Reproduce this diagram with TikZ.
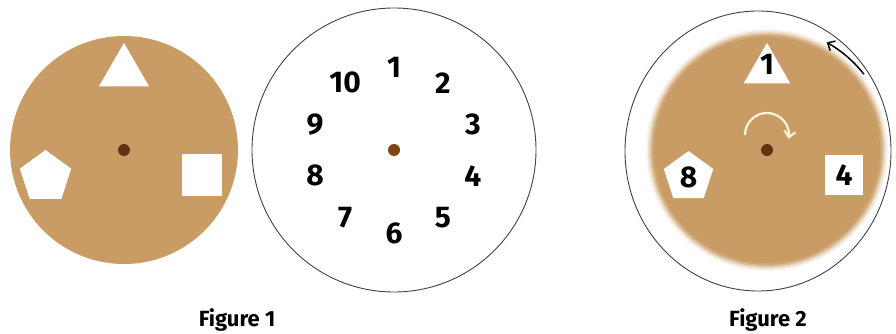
\documentclass[tikz,border=0pt]{standalone}
\usepackage{fontspec}
\setmainfont{Fira Sans}
\usetikzlibrary{shapes.geometric,calc,positioning,arrows.meta}
\definecolor{disc}{HTML}{C99C65}
\definecolor{pincol}{HTML}{5E3412}
\definecolor{cream}{HTML}{FFF4D6}

\begin{document}
\begin{tikzpicture}[x=1pt,y=1pt,
    hole/.style={fill=white,inner sep=0pt},
    num/.style={inner sep=0pt,font=\fontsize{30}{30}\selectfont\bfseries},
    caption/.style={font=\fontsize{22}{22}\selectfont\bfseries}]
    \useasboundingbox (0,0) rectangle (896,-334);
    % figure 1, the disc with the holes
    \coordinate (c1) at (124,-150);
    \fill[disc] (c1) circle (114);
    \node[hole,regular polygon,regular polygon sides=3,minimum size=58] (tri1) at ($(c1)+(90:78)$) {};
    \node[hole,regular polygon,regular polygon sides=5,minimum size=54] (pent1) at ($(c1)+(-161:83)$) {};
    \node[hole,rectangle,minimum width=40,minimum height=42] (sq1) at ($(c1)+(-18:82)$) {};
    \fill[pincol] (c1) circle (6);
    % figure 1, the numbered dial
    \coordinate (c2) at (394,-150);
    \draw[black!75,line width=0.9] (c2) circle (142);
    \foreach \i in {1,...,10}
        \node[num] (n\i) at ($(c2)+({90-36*(\i-1)}:83)$) {\i};
    \fill[pincol!80!orange] (c2) circle (6);
    % figure 2, disc laid on the dial
    \coordinate (c3) at (767,-150);
    \draw[black!75,line width=0.9] (758,-151) ellipse [x radius=133,y radius=140];
    \foreach \r/\o in {121/0.12,119/0.25,117/0.45,115/0.7}
        \fill[disc,opacity=\o] (c3) circle (\r);
    \fill[disc] (c3) circle (113);
    \node[hole,regular polygon,regular polygon sides=3,minimum size=54] (tri2) at ($(c3)+(90:80)$) {};
    \node[hole,regular polygon,regular polygon sides=5,minimum size=52] (pent2) at ($(c3)+(-161:83)$) {};
    \node[hole,rectangle,minimum width=38,minimum height=40] (sq2) at ($(c3)+(-18:81)$) {};
    \node[num] (m1) at ($(tri2)+(0,6)$) {1};
    \node[num] (m8) at (pent2) {8};
    \node[num] (m4) at (sq2) {4};
    \fill[pincol] (c3) circle (6);
    % turning arrows
    \draw[cream,line width=2.2,-{Straight Barb[length=6pt,width=11pt]}] ($(c3)+(-22,15)$) arc[start angle=180,end angle=-10,radius=22];
    \draw[black,line width=1.5,-{Straight Barb[length=6pt,width=11pt]}] ($(c3)+(38:123)$) arc[start angle=38,end angle=61,radius=123];
    % captions
    \node[caption] (cap1) at (237,-320) {Figure 1};
    \node[caption] (cap2) at (768,-320) {Figure 2};
\end{tikzpicture}
\end{document}
